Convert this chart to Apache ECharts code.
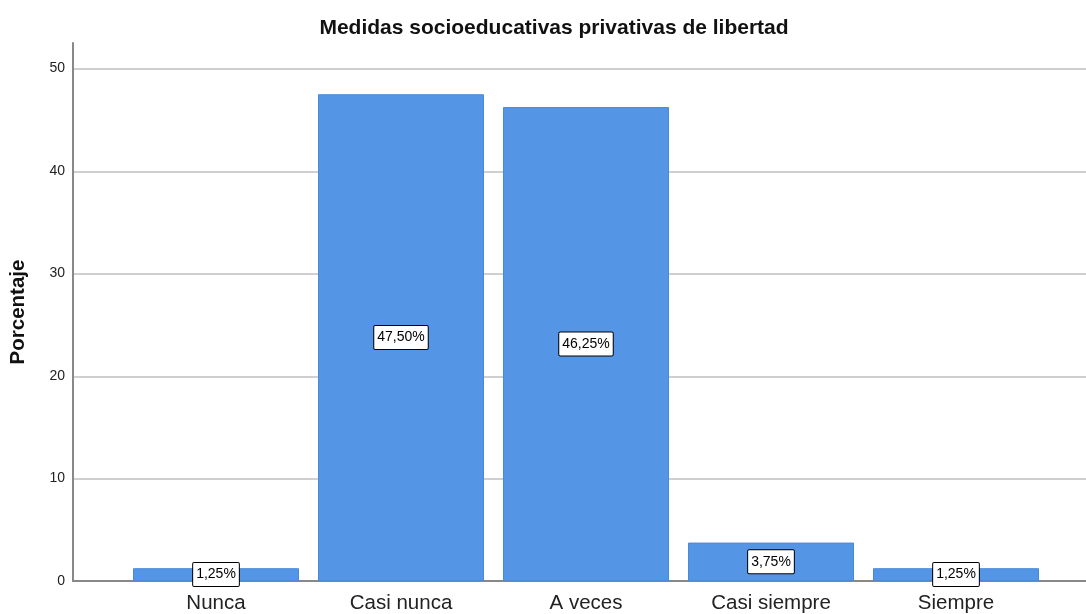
<!DOCTYPE html>
<html>
<head>
<meta charset="utf-8">
<script src="https://cdn.jsdelivr.net/npm/echarts@6/dist/echarts.min.js"></script>
<style>html,body{margin:0;padding:0;background:#fff}#c{width:1086px;height:614px}</style>
</head>
<body>
<div id="c"></div>
<script>
var categories = ['Nunca', 'Casi nunca', 'A veces', 'Casi siempre', 'Siempre'];
var percentages = [1.25, 47.50, 46.25, 3.75, 1.25];
var yTicks = [0, 10, 20, 30, 40, 50];
var titleText = 'Medidas socioeducativas privativas de libertad';
var yName = 'Porcentaje';

var chart = echarts.init(document.getElementById('c'));
var font = 'Liberation Sans, Arial, sans-serif';
chart.setOption({
  animation: false,
  backgroundColor: '#ffffff',
  title: {
    text: titleText, left: 549, top: 13, textAlign: 'center',
    textStyle: { fontFamily: font, fontSize: 21, fontWeight: 'bold', color: '#111' }
  },
  grid: [
    { left: 73, right: 0, top: 43, bottom: 33 },
    { left: 123.5, width: 925, top: 43, bottom: 33 },
    { left: 73, right: 0, top: 69.2, bottom: 33 }
  ],
  xAxis: [
    { gridIndex: 0, type: 'value', min: 0, max: 1, axisLine: { show: true, onZero: false, lineStyle: { color: '#888', width: 2 } },
      axisTick: { show: false }, axisLabel: { show: false }, splitLine: { show: false } },
    { gridIndex: 1, type: 'category', data: categories, axisLine: { show: false }, axisTick: { show: false },
      axisLabel: { fontFamily: font, fontSize: 20.5, color: '#222', margin: 12 } },
    { gridIndex: 2, type: 'value', min: 0, max: 1, show: false, splitLine: { show: false } }
  ],
  yAxis: [
    { gridIndex: 0, type: 'value', min: 0, max: 52.5, interval: 10,
      axisLabel: { fontFamily: font, fontSize: 14, color: '#222', margin: 8,
        formatter: function (v) { return yTicks.indexOf(v) >= 0 ? String(v) : ''; } },
      axisLine: { show: true, lineStyle: { color: '#888', width: 2 } }, axisTick: { show: false },
      splitLine: { show: false },
      name: yName, nameLocation: 'middle', nameGap: 44, nameRotate: 90,
      nameTextStyle: { fontFamily: font, fontSize: 20.5, fontWeight: 'bold', color: '#111' } },
    { gridIndex: 1, type: 'value', min: 0, max: 52.5, show: false, splitLine: { show: false } },
    { gridIndex: 2, type: 'value', min: 0, max: 50, interval: 10, axisLine: { show: false }, axisTick: { show: false },
      axisLabel: { show: false }, splitLine: { show: true, lineStyle: { color: '#cfcfcf', width: 2 } } }
  ],
  series: [{
    type: 'bar', xAxisIndex: 1, yAxisIndex: 1, data: percentages, barWidth: 166, z: 5,
    itemStyle: { color: '#5595e5', borderColor: '#4a88d8', borderWidth: 1 },
    label: {
      show: true, position: 'inside', fontFamily: font, fontSize: 14, color: '#000',
      backgroundColor: '#fff', borderColor: '#000', borderWidth: 1, borderRadius: 1, padding: [5, 3, 4, 3],
      formatter: function (p) { return p.value.toFixed(2).replace('.', ',') + '%'; }
    }
  }]
});
</script>
</body>
</html>
